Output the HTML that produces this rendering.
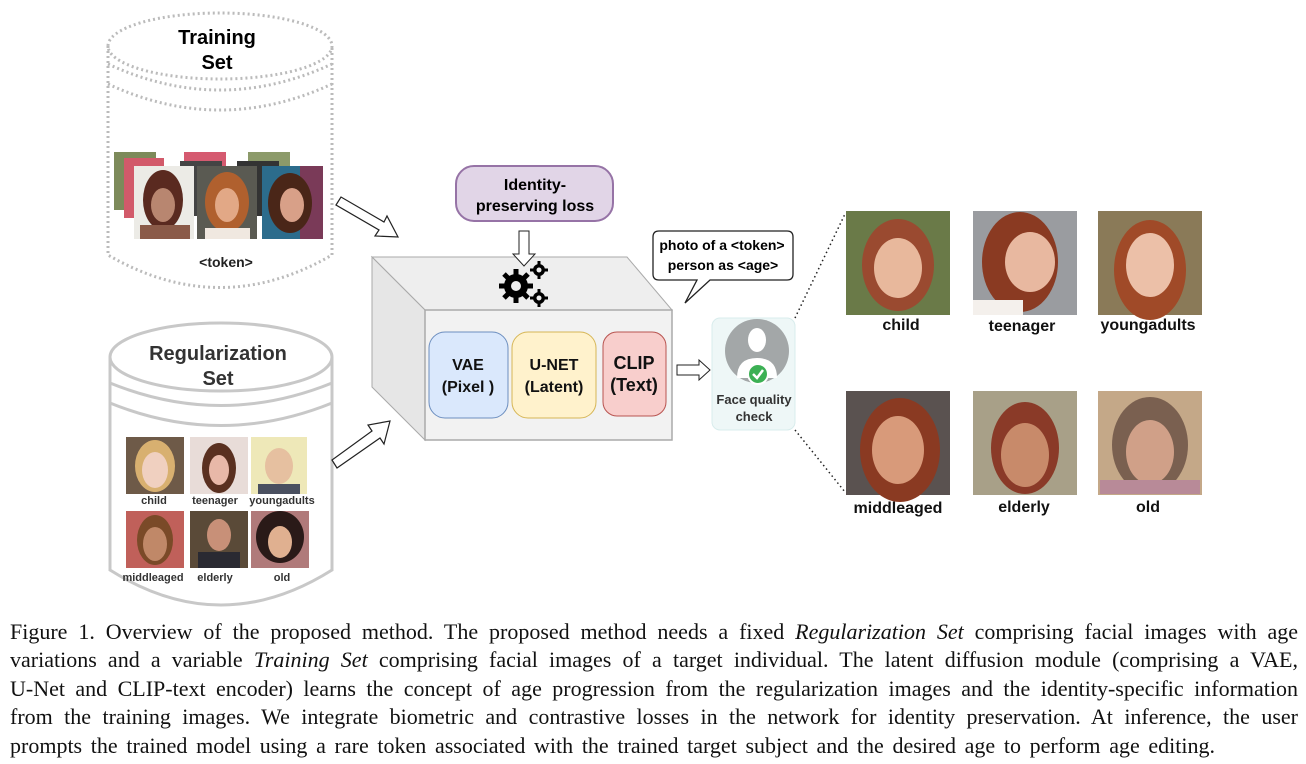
<!DOCTYPE html>
<html><head><meta charset="utf-8"><style>
html,body{margin:0;padding:0;background:#fff;}
body{width:1306px;height:764px;position:relative;overflow:hidden;}
svg{position:absolute;left:0;top:0;}
.cap{position:absolute;left:10px;width:1288px;font-family:"Liberation Serif",serif;font-size:22px;color:#111;text-align:justify;text-align-last:justify;white-space:nowrap;line-height:24px;}
</style></head><body>
<svg width="1306" height="610" viewBox="0 0 1306 610" font-family="Liberation Sans, Arial, sans-serif">
<!-- Training set cylinder (dotted) -->
<g fill="none" stroke="#bbb" stroke-width="3" stroke-dasharray="2,3">
<ellipse cx="220" cy="46" rx="112" ry="33"/>
<path d="M108 64 Q220 116 332 64"/>
<path d="M108 84 Q220 136 332 84"/>
<path d="M108 46 L108 255 Q220 320 332 255 L332 46"/>
</g>
<text x="217" y="44" font-size="20" font-weight="bold" text-anchor="middle">Training</text>
<text x="217" y="69" font-size="20" font-weight="bold" text-anchor="middle">Set</text>
<!-- training images -->
<rect x="114" y="152" width="42" height="58" fill="#7d8a5a"/>
<rect x="124" y="158" width="40" height="60" fill="#d25a6a"/>
<rect x="184" y="152" width="42" height="52" fill="#d55a70"/>
<rect x="248" y="152" width="42" height="52" fill="#8c9a6a"/>
<rect x="180" y="161" width="42" height="55" fill="#444"/>
<rect x="237" y="161" width="42" height="55" fill="#333"/>
<rect x="134" y="166" width="60" height="73" fill="#ecebe6"/>
<ellipse cx="163" cy="200" rx="20" ry="30" fill="#5a2a20"/><ellipse cx="163" cy="205" rx="12" ry="17" fill="#b88670"/><rect x="140" y="225" width="50" height="14" fill="#8a5a48"/>
<rect x="197" y="166" width="60" height="73" fill="#5a5a52"/>
<ellipse cx="227" cy="202" rx="22" ry="30" fill="#b0602e"/><ellipse cx="227" cy="205" rx="12" ry="17" fill="#e2a886"/><rect x="205" y="228" width="45" height="11" fill="#f0e8e0"/>
<rect x="262" y="166" width="61" height="73" fill="#2c6c8c"/>
<rect x="300" y="166" width="23" height="73" fill="#7a3a58"/>
<ellipse cx="290" cy="203" rx="22" ry="30" fill="#4a2618"/><ellipse cx="292" cy="205" rx="12" ry="17" fill="#d8a088"/>
<text x="226" y="267" font-size="14" font-weight="bold" text-anchor="middle" fill="#222">&lt;token&gt;</text>

<!-- Regularization cylinder -->
<g fill="none" stroke="#c8c8c8" stroke-width="3">
<ellipse cx="221" cy="357" rx="111" ry="34"/>
<path d="M110 383 Q221 428 332 383"/>
<path d="M110 403 Q221 448 332 403"/>
<path d="M110 357 L110 570 Q221 640 332 570 L332 357"/>
</g>
<text x="218" y="360" font-size="20" font-weight="bold" text-anchor="middle" fill="#333">Regularization</text>
<text x="218" y="385" font-size="20" font-weight="bold" text-anchor="middle" fill="#333">Set</text>
<!-- reg images -->
<rect x="126" y="437" width="58" height="57" fill="#6e5a48"/><ellipse cx="155" cy="466" rx="20" ry="26" fill="#d8b070"/><ellipse cx="155" cy="470" rx="13" ry="18" fill="#f0d0c0"/>
<rect x="190" y="437" width="58" height="57" fill="#e8dcd8"/><ellipse cx="219" cy="468" rx="17" ry="25" fill="#5a3020"/><ellipse cx="219" cy="470" rx="10" ry="15" fill="#e8b8a8"/>
<rect x="251" y="437" width="56" height="57" fill="#eee8b8"/><ellipse cx="279" cy="466" rx="14" ry="18" fill="#e6c0a0"/><rect x="258" y="484" width="42" height="10" fill="#4a5060"/>
<rect x="126" y="511" width="58" height="57" fill="#c0605a"/><ellipse cx="155" cy="540" rx="18" ry="25" fill="#7a4a28"/><ellipse cx="155" cy="544" rx="12" ry="17" fill="#c08868"/>
<rect x="190" y="511" width="58" height="57" fill="#5a4a38"/><ellipse cx="219" cy="535" rx="12" ry="16" fill="#c89078"/><rect x="198" y="552" width="42" height="16" fill="#2a2a32"/>
<rect x="251" y="511" width="58" height="57" fill="#b07a7a"/><ellipse cx="280" cy="537" rx="24" ry="26" fill="#2a1a18"/><ellipse cx="280" cy="542" rx="12" ry="16" fill="#e0b090"/>
<g font-size="11" text-anchor="middle" fill="#333" font-weight="bold">
<text x="154" y="504">child</text><text x="215" y="504">teenager</text><text x="282" y="504">youngadults</text>
<text x="153" y="581">middleaged</text><text x="215" y="581">elderly</text><text x="282" y="581">old</text>
</g>

<!-- hollow arrows -->
<polygon points="336,205 341,197 384,222 387,216 398,237 375,236 379,230" fill="#fff" stroke="#222" stroke-width="1.2"/>
<polygon points="332,460 337,468 380,438 384,444 390,421 368,425 372,431" fill="#fff" stroke="#222" stroke-width="1.2"/>

<!-- Box -->
<polygon points="372,257 627,257 672,310 425,310" fill="#eeeeee" stroke="#aaa" stroke-width="1"/>
<polygon points="372,257 425,310 425,440 372,387" fill="#e6e6e6" stroke="#aaa" stroke-width="1"/>
<rect x="425" y="310" width="247" height="130" fill="#f2f2f2" stroke="#aaa" stroke-width="1.5"/>
<rect x="429" y="332" width="79" height="86" rx="16" fill="#dae8fc" stroke="#6c8ebf"/>
<rect x="512" y="332" width="84" height="86" rx="16" fill="#fff2cc" stroke="#d6b656"/>
<rect x="603" y="332" width="63" height="84" rx="14" fill="#f8cecc" stroke="#b85450"/>
<g font-size="16" font-weight="bold" text-anchor="middle" fill="#111">
<text x="468" y="370">VAE</text><text x="468" y="392">(Pixel )</text>
<text x="554" y="370">U-NET</text><text x="554" y="392">(Latent)</text>
<text x="634" y="369" font-size="18">CLIP</text><text x="634" y="391" font-size="18">(Text)</text>
</g>
<!-- gears -->
<g fill="#000">
<circle cx="516" cy="286" r="12"/>
<g stroke="#000" stroke-width="5">
<line x1="516" y1="269" x2="516" y2="303"/><line x1="499" y1="286" x2="533" y2="286"/>
<line x1="504" y1="274" x2="528" y2="298"/><line x1="528" y1="274" x2="504" y2="298"/>
</g>
<circle cx="516" cy="286" r="5" fill="#eee"/>
<circle cx="539" cy="270" r="6"/><circle cx="539" cy="298" r="6"/>
<g stroke="#000" stroke-width="3">
<line x1="539" y1="261" x2="539" y2="279"/><line x1="530" y1="270" x2="548" y2="270"/>
<line x1="539" y1="289" x2="539" y2="307"/><line x1="530" y1="298" x2="548" y2="298"/>
</g>
<circle cx="539" cy="270" r="2.5" fill="#eee"/><circle cx="539" cy="298" r="2.5" fill="#eee"/>
</g>
<!-- identity loss -->
<rect x="456" y="166" width="157" height="55" rx="18" fill="#e1d5e7" stroke="#9673a6" stroke-width="2"/>
<text x="535" y="190" font-size="16" font-weight="bold" text-anchor="middle">Identity-</text>
<text x="535" y="211" font-size="16" font-weight="bold" text-anchor="middle">preserving loss</text>
<polygon points="519,231 529,231 529,254 535,254 524,266 513,254 519,254" fill="#fff" stroke="#222"/>

<!-- speech bubble -->
<path d="M659 231 H787 Q793 231 793 237 V274 Q793 280 787 280 H710 L685 303 L697 280 H659 Q653 280 653 274 V237 Q653 231 659 231 Z" fill="#fff" stroke="#222" stroke-width="1.3"/>
<text x="722" y="250" font-size="14" font-weight="bold" text-anchor="middle">photo of a &lt;token&gt;</text>
<text x="723" y="270" font-size="14" font-weight="bold" text-anchor="middle">person as &lt;age&gt;</text>

<!-- arrow to face check -->
<polygon points="677,365 699,365 699,360 710,370 699,380 699,375 677,375" fill="#fff" stroke="#222"/>
<!-- face quality -->
<rect x="712" y="318" width="83" height="112" rx="8" fill="#eef7f7" stroke="#d8ecec"/>
<circle cx="757" cy="351" r="32" fill="#a3a7a8"/>
<ellipse cx="757" cy="340" rx="9" ry="12" fill="#fff"/>
<path d="M737 378 Q737 358 757 358 Q777 358 777 378 Z" fill="#fff"/>
<circle cx="758" cy="374" r="10" fill="#3cb054" stroke="#fff" stroke-width="2"/>
<path d="M753 374 L757 378 L763 370" fill="none" stroke="#fff" stroke-width="2.5"/>
<text x="754" y="404" font-size="13" font-weight="bold" text-anchor="middle" fill="#333">Face quality</text>
<text x="754" y="421" font-size="13" font-weight="bold" text-anchor="middle" fill="#333">check</text>
<!-- dotted connectors -->
<path d="M795 318 L845 214" stroke="#222" stroke-width="1.5" stroke-dasharray="1.5,3" fill="none"/>
<path d="M795 430 L845 492" stroke="#222" stroke-width="1.5" stroke-dasharray="1.5,3" fill="none"/>

<!-- right photos -->
<rect x="846" y="211" width="104" height="104" fill="#6a7a48"/><ellipse cx="898" cy="265" rx="36" ry="46" fill="#9a4a30"/><ellipse cx="898" cy="268" rx="24" ry="30" fill="#e8b89c"/>
<rect x="973" y="211" width="104" height="104" fill="#9a9ca0"/><ellipse cx="1020" cy="262" rx="38" ry="50" fill="#8a3a22"/><ellipse cx="1030" cy="262" rx="25" ry="30" fill="#e8b8a0"/><rect x="973" y="300" width="50" height="15" fill="#f4f0ec"/>
<rect x="1098" y="211" width="104" height="104" fill="#8a7a58"/><ellipse cx="1150" cy="270" rx="36" ry="50" fill="#a04a28"/><ellipse cx="1150" cy="265" rx="24" ry="32" fill="#ecc0a8"/>
<rect x="846" y="391" width="104" height="104" fill="#5a5250"/><ellipse cx="900" cy="450" rx="40" ry="52" fill="#8a3a22"/><ellipse cx="898" cy="450" rx="26" ry="34" fill="#d89a7a"/>
<rect x="973" y="391" width="104" height="104" fill="#a8a088"/><ellipse cx="1025" cy="448" rx="34" ry="46" fill="#8a3a28"/><ellipse cx="1025" cy="455" rx="24" ry="32" fill="#c88a6a"/>
<rect x="1098" y="391" width="104" height="104" fill="#c4a888"/><ellipse cx="1150" cy="445" rx="38" ry="48" fill="#7a6050"/><ellipse cx="1150" cy="452" rx="24" ry="32" fill="#d0a088"/><rect x="1100" y="480" width="100" height="14" fill="#b88a98"/>
<g font-size="16" font-weight="bold" text-anchor="middle" fill="#111">
<text x="901" y="330">child</text><text x="1022" y="331">teenager</text><text x="1148" y="330">youngadults</text>
<text x="898" y="513">middleaged</text><text x="1024" y="512">elderly</text><text x="1148" y="512">old</text>
</g>
</svg>
<div class="cap" style="top:620px">Figure 1. Overview of the proposed method. The proposed method needs a fixed <i>Regularization Set</i> comprising facial images with age</div>
<div class="cap" style="top:648px">variations and a variable <i>Training Set</i> comprising facial images of a target individual. The latent diffusion module (comprising a VAE,</div>
<div class="cap" style="top:677px">U-Net and CLIP-text encoder) learns the concept of age progression from the regularization images and the identity-specific information</div>
<div class="cap" style="top:705px">from the training images. We integrate biometric and contrastive losses in the network for identity preservation. At inference, the user</div>
<div class="cap" style="top:734px;width:1205px">prompts the trained model using a rare token associated with the trained target subject and the desired age to perform age editing.</div>
</body></html>
